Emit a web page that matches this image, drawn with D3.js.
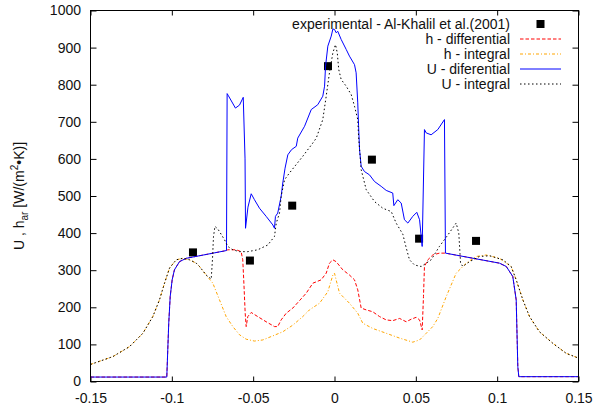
<!DOCTYPE html>
<html>
<head>
<meta charset="utf-8">
<script src="https://cdn.jsdelivr.net/npm/d3@7"></script>
<style>
  html, body { margin: 0; padding: 0; background: #fff; }
  svg { display: block; font-family: "Liberation Sans", Arial, sans-serif; }
</style>
</head>
<body>
<svg id="chart" width="605" height="411"></svg>
<script>
// Axis ticks
const xTicks = [-0.15, -0.1, -0.05, 0, 0.05, 0.1, 0.15];
const xTickLabels = ["-0.15", "-0.1", "-0.05", "0", "0.05", "0.1", "0.15"];
const yTicks = [0, 100, 200, 300, 400, 500, 600, 700, 800, 900, 1000];

// Experimental points (Al-Khalil et al., 2001)
const expX = [-0.087, -0.052, -0.026, -0.004, 0.023, 0.052, 0.087];
const expU = [348, 326, 474, 850, 598, 385, 379];

// h - differential  [x, h]
const hDiff = [
  [-0.15, 12], [-0.1031, 12], [-0.1025, 85], [-0.1019, 157], [-0.1010, 229], [-0.0998, 274],
  [-0.0984, 301], [-0.0953, 323], [-0.0912, 332], [-0.0664, 353], [-0.0656, 355], [-0.0604, 355],
  [-0.0574, 350], [-0.0564, 328], [-0.0558, 274], [-0.0549, 184], [-0.0543, 148], [-0.0533, 175],
  [-0.0512, 186], [-0.0472, 175], [-0.0420, 161], [-0.0369, 148], [-0.0349, 148], [-0.0328, 166],
  [-0.0297, 184], [-0.0256, 198], [-0.0215, 218], [-0.0174, 238], [-0.0133, 265], [-0.0082, 274],
  [-0.0051, 292], [-0.0031, 319], [-0.0010, 328], [0.0010, 323], [0.0051, 301], [0.0092, 287],
  [0.0123, 274], [0.0143, 247], [0.0164, 198], [0.0195, 193], [0.0235, 188], [0.0277, 175],
  [0.0318, 166], [0.0358, 164], [0.0400, 170], [0.0441, 161], [0.0472, 168], [0.0502, 173],
  [0.0523, 166], [0.0539, 139], [0.0547, 229], [0.0553, 310], [0.0574, 328], [0.0604, 341],
  [0.0645, 346], [0.0682, 346], [0.1014, 319], [0.1056, 310], [0.1096, 283], [0.1117, 220],
  [0.1127, 40], [0.1133, 13], [0.15, 13]
];

// h - integral  [x, h]
const hInt = [
  [-0.15, 46], [-0.1363, 67], [-0.1260, 94], [-0.1178, 130], [-0.1117, 175], [-0.1076, 220],
  [-0.1045, 265], [-0.1014, 306], [-0.0973, 328], [-0.0933, 332], [-0.0891, 328], [-0.0850, 319],
  [-0.0830, 310], [-0.0789, 287], [-0.0748, 265], [-0.0707, 220], [-0.0666, 175], [-0.0625, 148],
  [-0.0584, 126], [-0.0543, 114], [-0.0492, 109], [-0.0441, 112], [-0.0379, 123], [-0.0318, 134],
  [-0.0256, 152], [-0.0195, 175], [-0.0154, 193], [-0.0092, 211], [-0.0041, 242], [-0.0010, 287],
  [0.0, 292], [0.0010, 274], [0.0031, 238], [0.0092, 211], [0.0143, 184], [0.0174, 157],
  [0.0235, 143], [0.0318, 130], [0.0400, 117], [0.0481, 106], [0.0523, 112], [0.0564, 130],
  [0.0604, 148], [0.0635, 170], [0.0687, 229], [0.0748, 292], [0.0810, 319], [0.0871, 337],
  [0.0933, 341], [0.1014, 332], [0.1086, 310], [0.1117, 274], [0.1158, 220], [0.1199, 175],
  [0.1260, 134], [0.1342, 103], [0.1424, 76], [0.15, 63]
];

// U - differential  [x, U]
const uDiff = [
  [-0.15, 12], [-0.1031, 12], [-0.1025, 85], [-0.1019, 157], [-0.1010, 229], [-0.0998, 274],
  [-0.0984, 301], [-0.0953, 323], [-0.0912, 332], [-0.0664, 353], [-0.0660, 776], [-0.0652, 770],
  [-0.0609, 737], [-0.0584, 745], [-0.0561, 766], [-0.0550, 600], [-0.0547, 413], [-0.0532, 470],
  [-0.0512, 506], [-0.0492, 490], [-0.0461, 467], [-0.0420, 445], [-0.0379, 422], [-0.0369, 413],
  [-0.0363, 445], [-0.0349, 454], [-0.0328, 499], [-0.0318, 535], [-0.0304, 575], [-0.0287, 611],
  [-0.0264, 625], [-0.0235, 634], [-0.0226, 656], [-0.0184, 688], [-0.0143, 733], [-0.0103, 746],
  [-0.0072, 769], [-0.0061, 796], [-0.0055, 850], [-0.0041, 904], [-0.0020, 931], [-0.0010, 950],
  [0.0, 949], [0.0010, 940], [0.0020, 944], [0.0041, 922], [0.0072, 895], [0.0092, 877],
  [0.0123, 854], [0.0133, 832], [0.0143, 751], [0.0148, 690], [0.0154, 625], [0.0164, 580],
  [0.0184, 566], [0.0215, 557], [0.0246, 539], [0.0287, 526], [0.0318, 515], [0.0358, 508],
  [0.0365, 474], [0.0389, 490], [0.0410, 481], [0.0430, 436], [0.0451, 427], [0.0481, 445],
  [0.0506, 456], [0.0523, 436], [0.0539, 364], [0.0553, 679], [0.0564, 670], [0.0594, 665],
  [0.0635, 679], [0.0676, 706], [0.0682, 346], [0.1014, 319], [0.1056, 310], [0.1096, 283],
  [0.1117, 220], [0.1127, 40], [0.1133, 13], [0.15, 13]
];

// U - integral  [x, U]
const uInt = [
  [-0.15, 46], [-0.1363, 67], [-0.1260, 94], [-0.1178, 130], [-0.1117, 175], [-0.1076, 220],
  [-0.1045, 265], [-0.1014, 306], [-0.0973, 328], [-0.0933, 332], [-0.0891, 328], [-0.0850, 319],
  [-0.0830, 310], [-0.0789, 287], [-0.0758, 276], [-0.0750, 330], [-0.0744, 390], [-0.0735, 418],
  [-0.0719, 412], [-0.0707, 404], [-0.0676, 382], [-0.0656, 364], [-0.0625, 355], [-0.0584, 350],
  [-0.0533, 350], [-0.0472, 355], [-0.0410, 368], [-0.0369, 391], [-0.0358, 427], [-0.0338, 454],
  [-0.0328, 499], [-0.0307, 544], [-0.0277, 562], [-0.0195, 607], [-0.0133, 643], [-0.0112, 656],
  [-0.0072, 706], [-0.0051, 769], [-0.0031, 832], [-0.0010, 886], [0.0006, 908], [0.0017, 886],
  [0.0026, 841], [0.0041, 814], [0.0072, 796], [0.0103, 773], [0.0123, 742], [0.0143, 706],
  [0.0148, 661], [0.0164, 571], [0.0195, 517], [0.0246, 485], [0.0297, 467], [0.0349, 458],
  [0.0379, 427], [0.0420, 397], [0.0441, 360], [0.0461, 328], [0.0492, 314], [0.0533, 310],
  [0.0564, 319], [0.0594, 328], [0.0645, 364], [0.0697, 395], [0.0748, 427], [0.0764, 400],
  [0.0775, 319], [0.0789, 310], [0.0830, 323], [0.0891, 337], [0.0953, 339], [0.1035, 328],
  [0.1086, 310], [0.1117, 274], [0.1158, 220], [0.1199, 175], [0.1260, 134], [0.1342, 103],
  [0.1424, 76], [0.15, 63]
];

(function () {
  const svg = d3.select("#chart");
  const pL = 90.5, pR = 578.5, pT = 10.5, pB = 381.5;

  const x = d3.scaleLinear().domain([-0.15, 0.15]).range([pL, pR]);
  const y = d3.scaleLinear().domain([0, 1000]).range([pB, pT]);

  svg.append("defs").append("clipPath").attr("id", "plotClip")
    .append("rect").attr("x", pL).attr("y", pT).attr("width", pR - pL).attr("height", pB - pT);

  // Axes: labels outside, ticks inward, mirrored on top and right
  const fmtX = (d) => xTickLabels[xTicks.indexOf(d)];
  const xAxis = d3.axisBottom(x).tickValues(xTicks).tickFormat(fmtX).tickSizeInner(-5).tickSizeOuter(0).tickPadding(12);
  const yAxis = d3.axisLeft(y).tickValues(yTicks).tickFormat(d3.format("d")).tickSizeInner(-6).tickSizeOuter(0).tickPadding(9.5);

  const gx = svg.append("g").attr("transform", `translate(0,${pB})`).call(xAxis);
  const gy = svg.append("g").attr("transform", `translate(${pL},0)`).call(yAxis);
  const gxTop = svg.append("g").attr("transform", `translate(0,${pT})`)
    .call(d3.axisTop(x).tickValues(xTicks).tickFormat("").tickSizeInner(-5).tickSizeOuter(0));
  const gyRight = svg.append("g").attr("transform", `translate(${pR},0)`)
    .call(d3.axisRight(y).tickValues(yTicks).tickFormat("").tickSizeInner(-6).tickSizeOuter(0));

  [gx, gy, gxTop, gyRight].forEach(g => {
    g.select(".domain").remove();
    g.selectAll("line").attr("stroke", "#000").attr("stroke-width", 1);
    g.selectAll("text").attr("fill", "#111").style("font-size", "14px")
      .style("font-family", "'Liberation Sans', Arial, sans-serif");
  });
  gx.selectAll("text").attr("dy", "0.71em");

  // Series
  const line = d3.line().x(d => x(d[0])).y(d => y(d[1]));
  const plot = svg.append("g").attr("clip-path", "url(#plotClip)");

  // experimental squares
  const exp = expX.map((v, i) => [v, expU[i]]);
  plot.selectAll("rect.exp").data(exp).enter().append("rect")
    .attr("class", "exp")
    .attr("x", d => x(d[0]) - 4).attr("y", d => y(d[1]) - 4)
    .attr("width", 8).attr("height", 8).attr("fill", "#000");

  const series = [
    { name: "h - differential", data: hDiff, color: "#ff0000", dash: "3.5,2", width: 1 },
    { name: "h - integral", data: hInt, color: "#ffa500", dash: "3,2,1,2", width: 1 },
    { name: "U - diferential", data: uDiff, color: "#0000ff", dash: null, width: 1 },
    { name: "U - integral", data: uInt, color: "#000000", dash: "1.5,2.5", width: 1 }
  ];

  series.forEach(s => {
    plot.append("path").datum(s.data)
      .attr("fill", "none")
      .attr("stroke", s.color)
      .attr("stroke-width", s.width)
      .attr("stroke-dasharray", s.dash)
      .attr("d", line);
  });

  // Frame
  svg.append("rect").attr("x", pL).attr("y", pT).attr("width", pR - pL).attr("height", pB - pT)
    .attr("fill", "none").attr("stroke", "#000").attr("stroke-width", 1);

  // Legend
  const legText = 510, legL = 520, legR = 561, legY0 = 24, legDy = 15;
  const legend = svg.append("g").style("font-size", "14px").attr("fill", "#111");
  legend.append("text").attr("x", legText).attr("y", legY0).attr("dy", "0.35em")
    .attr("text-anchor", "end").text("experimental - Al-Khalil et al.(2001)");
  legend.append("rect").attr("x", 540.5 - 4).attr("y", legY0 - 4).attr("width", 8).attr("height", 8).attr("fill", "#000");
  series.forEach((s, i) => {
    const yy = legY0 + legDy * (i + 1);
    legend.append("text").attr("x", legText).attr("y", yy).attr("dy", "0.35em")
      .attr("text-anchor", "end").text(s.name);
    legend.append("line").attr("x1", legL).attr("x2", legR).attr("y1", yy).attr("y2", yy)
      .attr("stroke", s.color).attr("stroke-width", s.width).attr("stroke-dasharray", s.dash);
  });

  // Y-axis title
  const yt = svg.append("text")
    .attr("transform", `translate(24,${(pT + pB) / 2}) rotate(-90)`)
    .attr("text-anchor", "middle")
    .style("font-size", "14px").attr("fill", "#111");
  yt.append("tspan").text("U , h");
  yt.append("tspan").attr("dy", 4).style("font-size", "10px").text("ar");
  yt.append("tspan").attr("dy", -4).text(" [W/(m");
  yt.append("tspan").attr("dy", -6).style("font-size", "10px").text("2");
  yt.append("tspan").attr("dy", 6).text("•K)]");
})();
</script>
</body>
</html>
